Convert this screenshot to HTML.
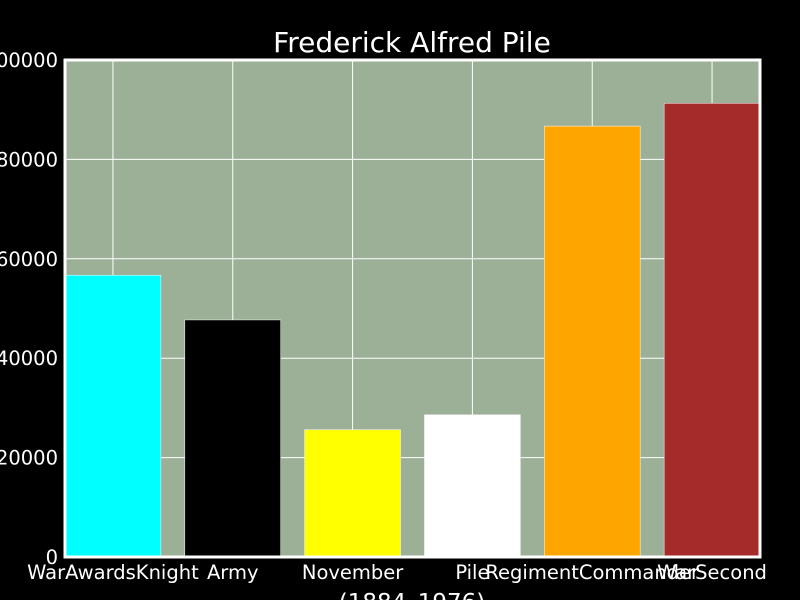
<!DOCTYPE html>
<html><head><meta charset="utf-8"><style>
html,body{margin:0;padding:0;background:#000;width:800px;height:600px;overflow:hidden}
svg text{font-family:"DejaVu Sans","Liberation Sans",sans-serif;fill:#fff}
</style></head><body>
<svg id="chart" width="800" height="600" xmlns="http://www.w3.org/2000/svg">
<rect x="0" y="0" width="800" height="600" fill="#000"/>
<text x="412" y="52" font-size="28" text-anchor="middle">Frederick Alfred Pile</text>
<rect x="65" y="60" width="695" height="497" fill="#9caf97"/>
<g id="grid"></g><g id="bars"></g><g id="ticks"></g>
<rect x="65" y="60" width="695" height="497" fill="none" stroke="#fff" stroke-width="3"/>
<text x="412" y="610" font-size="23" text-anchor="middle">(1884–1976)</text>
</svg>
<script>
const categories=["WarAwardsKnight","Army","November","Pile","RegimentCommander","WarSecond"];
const values=[56700,47700,25600,28600,86700,91300];
const colors=["#00ffff","#000000","#ffff00","#ffffff","#ffa500","#a52a2a"];
const yTicks=[0,20000,40000,60000,80000,100000];
const NS="http://www.w3.org/2000/svg";
const L=65,R=760,T=60,B=557,xmin=-0.4,xmax=5.4,ymax=100000;
const xs=v=>L+(v-xmin)/(xmax-xmin)*(R-L);
const ys=v=>B-v/ymax*(B-T);
function mk(t,a,p){const e=document.createElementNS(NS,t);for(const k in a)e.setAttribute(k,a[k]);p.appendChild(e);return e;}
const grid=document.getElementById('grid'),bars=document.getElementById('bars'),ticks=document.getElementById('ticks');
yTicks.forEach(v=>{
 const g=mk('line',{x1:L,x2:R,y1:ys(v),y2:ys(v),stroke:'#fff','stroke-width':1},grid);
 
 
 const t=mk('text',{x:58,y:ys(v)+7,'font-size':19.5,'text-anchor':'end'},ticks);
 t.textContent=v;
 
 
});
categories.forEach((c,i)=>{
 const g=mk('line',{x1:xs(i),x2:xs(i),y1:T,y2:B,stroke:'#fff','stroke-width':1},grid);
 
 
 const r=mk('rect',{x:xs(i-0.4),width:xs(0.4)-xs(-0.4),y:ys(values[i]),height:B-ys(values[i]),fill:colors[i],stroke:'#fff','stroke-width':0.5},bars);
 
 
 const t=mk('text',{x:xs(i),y:579,'font-size':19.5,'text-anchor':'middle'},ticks);
 t.textContent=c;
 
 
});
</script>
</body></html>
